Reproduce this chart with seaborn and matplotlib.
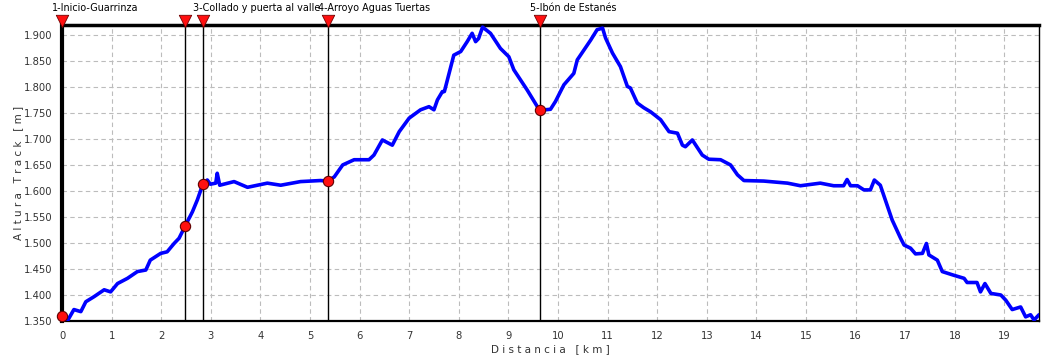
import matplotlib
matplotlib.use("Agg")
import matplotlib.pyplot as plt
import matplotlib.ticker as mticker
import matplotlib.transforms as mtransforms
import seaborn as sns
import pandas as pd

# ---- data ----
distance_km = [0.0, 0.12, 0.24, 0.38, 0.48, 0.65, 0.85, 0.98, 1.12, 1.32, 1.52, 1.69, 1.78,
               1.99, 2.12, 2.26, 2.36, 2.48, 2.63, 2.73, 2.84, 2.93, 2.99, 3.10, 3.13, 3.18,
               3.47, 3.74, 4.14, 4.41, 4.81, 5.21, 5.36, 5.49, 5.66, 5.89, 6.19, 6.29, 6.46,
               6.66, 6.80, 7.00, 7.23, 7.40, 7.50, 7.57, 7.67, 7.71, 7.90, 8.04, 8.17, 8.27,
               8.34, 8.40, 8.48, 8.64, 8.84, 9.01, 9.11, 9.38, 9.52, 9.63, 9.85, 9.95, 10.12,
               10.32, 10.39, 10.66, 10.79, 10.90, 10.96, 11.10, 11.26, 11.40, 11.46, 11.60,
               11.73, 11.87, 12.07, 12.24, 12.41, 12.51, 12.57, 12.71, 12.91, 13.04, 13.28,
               13.48, 13.62, 13.75, 14.15, 14.63, 14.89, 15.29, 15.56, 15.76, 15.83, 15.90,
               16.04, 16.17, 16.30, 16.38, 16.50, 16.61, 16.74, 16.91, 16.98, 17.11, 17.21,
               17.35, 17.43, 17.48, 17.65, 17.75, 17.98, 18.19, 18.25, 18.45, 18.52, 18.61,
               18.73, 18.93, 19.03, 19.16, 19.33, 19.43, 19.53, 19.60, 19.70]
altitude_m = [1360, 1352, 1372, 1368, 1387, 1397, 1410, 1406, 1422, 1432, 1445, 1448, 1467,
              1480, 1483, 1499, 1509, 1532, 1560, 1583, 1613, 1621, 1613, 1615, 1634, 1611,
              1618, 1607, 1615, 1611, 1618, 1620, 1619, 1627, 1650, 1660, 1660, 1669, 1698,
              1688, 1714, 1740, 1756, 1762, 1756, 1775, 1791, 1791, 1861, 1868, 1887, 1903,
              1887, 1893, 1915, 1903, 1874, 1858, 1833, 1794, 1772, 1755, 1757, 1772, 1804,
              1826, 1852, 1890, 1910, 1913, 1894, 1865, 1839, 1801, 1798, 1769,
              1760, 1752, 1737, 1714, 1711, 1688, 1685, 1698, 1669, 1661, 1660,
              1650, 1631, 1620, 1619, 1615, 1610, 1615, 1610, 1610, 1622, 1610,
              1610, 1602, 1602, 1621, 1611, 1580, 1544, 1509, 1496, 1490, 1479,
              1480, 1499, 1477, 1467, 1445, 1438, 1432, 1424, 1424, 1406, 1422,
              1403, 1400, 1390, 1372, 1377, 1358, 1362, 1352, 1362]

waypoint_km = [0.0, 2.48, 2.84, 5.36, 9.63]
waypoint_alt = [1360, 1532, 1613, 1619, 1755]
waypoint_labels = ["1-Inicio-Guarrinza", "", "3-Collado y puerta al valle",
                   "4-Arroyo Aguas Tuertas", "5-Ibón de Estanés"]

x_ticks = list(range(0, 20))
y_ticks = [1350, 1400, 1450, 1500, 1550, 1600, 1650, 1700, 1750, 1800, 1850, 1900]

x_label = "D i s t a n c i a   [ k m ]"
y_label = "A l t u r a   T r a c k   [ m ]"

# ---- plot ----
sns.set_style("white")
plt.rcParams["font.family"] = ["DejaVu Sans"]

fig = plt.figure(figsize=(10.49, 3.57), dpi=100)
ax = fig.add_axes([62 / 1049, 1 - 321 / 357, (1039 - 62) / 1049, (321 - 25) / 357])

profile = pd.DataFrame({"km": distance_km, "alt": altitude_m})
sns.lineplot(data=profile, x="km", y="alt", ax=ax, color="#0000ff", linewidth=2.6,
             zorder=3, estimator=None, sort=False)

for k in waypoint_km:
    ax.axvline(k, color="black", linewidth=1, zorder=2)

ax.scatter(waypoint_km, waypoint_alt, s=55, color="#ff1010", edgecolor="#600000",
           linewidth=0.8, zorder=5, clip_on=False)

ax.set_xlim(0, 19.70)
ax.set_ylim(1350, 1919)

# triangles sitting just above the top border of each waypoint line
tri_trans = mtransforms.offset_copy(
    mtransforms.blended_transform_factory(ax.transData, ax.transAxes),
    fig=fig, x=0, y=4, units="dots")
ax.scatter(waypoint_km, [1.0] * len(waypoint_km), marker="v", s=80, color="#ff1010",
           edgecolor="#700000", linewidth=0.6, zorder=6, clip_on=False,
           transform=tri_trans)

for k, lab in zip(waypoint_km, waypoint_labels):
    if lab:
        ax.annotate(lab, xy=(k, 1.0), xycoords=("data", "axes fraction"),
                    xytext=(-7, 12.5), textcoords="offset points", ha="left",
                    va="center", fontsize=6.9, color="black", annotation_clip=False)

ax.set_xticks(x_ticks)
ax.set_yticks(y_ticks)
ax.xaxis.set_minor_locator(mticker.MultipleLocator(0.2))
ax.yaxis.set_minor_locator(mticker.MultipleLocator(10))
ax.yaxis.set_major_formatter(mticker.FuncFormatter(lambda v, p: f"{int(v)//1000}.{int(v)%1000:03d}"))
ax.tick_params(axis="both", which="major", labelsize=7.2, labelcolor="#333333",
               length=4, width=1, color="black", direction="out", pad=3)
ax.tick_params(axis="both", which="minor", length=2, width=0.8, color="black",
               direction="out")

ax.grid(True, which="major", color="#bcbcbc", linestyle=(0, (4, 3)), linewidth=0.8)
ax.set_axisbelow(True)

ax.spines["left"].set_linewidth(3)
ax.spines["top"].set_linewidth(2.5)
ax.spines["right"].set_linewidth(1)
ax.spines["bottom"].set_linewidth(1.6)
ax.spines["bottom"].set_linestyle((0, (2, 1)))
for s in ax.spines.values():
    s.set_color("black")

ax.set_xlabel(x_label, fontsize=7.5, color="#333333")
ax.xaxis.set_label_coords(0.5, -0.078)
ax.set_ylabel(y_label, fontsize=7.5, color="#333333")
ax.yaxis.set_label_coords(-0.040, 0.5)

fig.savefig("out.png", dpi=100, facecolor="white")
